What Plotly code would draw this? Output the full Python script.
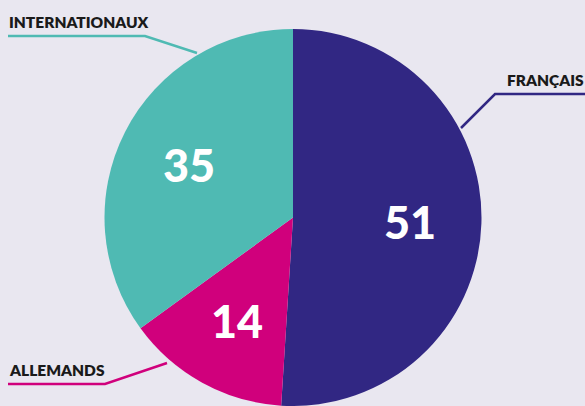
import math
import plotly.graph_objects as go

labels = ["FRANÇAIS", "ALLEMANDS", "INTERNATIONAUX"]
values = [51, 14, 35]
colors = ["#312783", "#d0007c", "#4fbab3"]

W, H = 585, 406
BG = "#e9e7f0"

# pie geometry in px (from top-left)
CX, CY, R = 293, 218, 189


def px(x, y):
    return x / W, 1 - y / H


fig = go.Figure()
fig.add_trace(go.Pie(
    labels=labels, values=values, sort=False, direction="clockwise", rotation=0,
    marker=dict(colors=colors, line=dict(width=0)),
    textinfo="none",
    domain=dict(x=[(CX - R) / W, (CX + R) / W], y=[0, 1 - (CY - R) / H]),
    hoverinfo="label+value", showlegend=False,
))

annotations = []
# value labels at each slice's mid angle
total = sum(values)
start = 0
for v in values:
    mid = (start + v / 2) / total * 2 * math.pi
    start += v
    x = CX + 0.62 * R * math.sin(mid)
    y = CY - 0.62 * R * math.cos(mid)
    X, Y = px(x, y)
    annotations.append(dict(text=str(v), x=X, y=Y, xref="paper", yref="paper",
                            xanchor="center", yanchor="middle", showarrow=False,
                            font=dict(family="Lato", size=45, color="white", weight=900)))

# leader lines (polyline: label end -> elbow -> pie edge) and labels
leaders = [
    (0, [(585, 94), (495, 94), (461, 128)], (505, 91)),
    (2, [(8, 36), (145, 36), (197, 53)], (7, 33)),
    (1, [(8, 384), (105, 384), (167, 363)], (7, 381)),
]
shapes = []
for i, pts, (lx, ly) in leaders:
    path = ""
    for k, (x, y) in enumerate(pts):
        X, Y = px(x, y)
        path += ("M" if k == 0 else " L") + f" {X} {Y}"
    shapes.append(dict(type="path", xref="paper", yref="paper", path=path,
                       line=dict(color=colors[i], width=2.5)))
    X, Y = px(lx, ly)
    annotations.append(dict(text=labels[i], x=X, y=Y, xref="paper", yref="paper",
                            xanchor="left", yanchor="bottom", showarrow=False,
                            font=dict(family="Lato", size=15.5, color="#1a1a1a", weight=800)))

fig.update_layout(
    width=W, height=H,
    margin=dict(l=0, r=0, t=0, b=0),
    paper_bgcolor=BG, plot_bgcolor=BG,
    shapes=shapes, annotations=annotations,
)
fig.write_html("out.html", config={"displayModeBar": False},
               post_script=f"document.body.style.margin='0';document.body.style.background='{BG}';")
